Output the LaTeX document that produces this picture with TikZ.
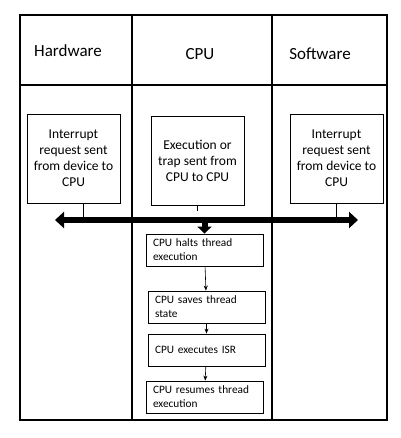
\documentclass[tikz,border=0pt]{standalone}
\usepackage{fontspec}
\setmainfont{Carlito}
\usepackage{tikz}
\usetikzlibrary{arrows.meta, positioning}

\begin{document}
\begin{tikzpicture}[
    x=1pt, y=-1pt,
    lane/.style={draw=black, line width=1.1pt},
    head/.style={font=\fontsize{17}{20}\selectfont},
    srcbox/.style={rectangle, draw=black, line width=0.8pt, minimum width=93pt,
                   minimum height=89pt, align=center,
                   font=\fontsize{13.5}{16}\selectfont},
    stepbox/.style={rectangle, draw=black, line width=0.8pt, minimum width=117pt,
                    minimum height=32pt, text width=103pt, inner xsep=7pt,
                    align=left, font=\fontsize{11.3}{14}\selectfont},
    tick/.style={draw=black, line width=0.6pt},
    arr/.style={-{Stealth[length=5pt,width=4pt]}, line width=0.6pt},
    bus/.style={{Triangle[length=9pt,width=16pt]}-{Triangle[length=9pt,width=16pt]}, line width=6pt},
    busdown/.style={-{Triangle[length=7pt,width=14pt]}, line width=6pt}
]
\useasboundingbox (0,0) rectangle (400,438);

% swim lanes
\draw[lane] (20,15) rectangle (387,420);
\draw[lane] (20,85) -- (387,85);
\draw[lane] (132,15) -- (132,420);
\draw[lane] (272,15) -- (272,420);

\node[head] (hwhead) at (68,51) {Hardware};
\node[head] (cpuhead) at (200,54) {CPU};
\node[head] (swhead) at (320,54) {Software};

% sources
\node[srcbox] (hw) at (73.5,158.5) {Interrupt\\request sent\\from device to\\CPU};
\node[srcbox] (trap) at (197.5,160.5) {Execution or\\trap sent from\\CPU to CPU};
\node[srcbox] (sw) at (336.5,158.5) {Interrupt\\request sent\\from device to\\CPU};

% handling steps
\node[stepbox] (halt) at (204.5,250) {CPU halts thread\\execution};
\node[stepbox] (save) at (206.5,307) {CPU saves thread\\state};
\node[stepbox] (isr) at (206.5,350) {CPU executes ISR};
\node[stepbox] (resume) at (204.5,397) {CPU resumes thread\\execution};

% bus
\coordinate (busL) at (55,220);
\coordinate (busR) at (358,220);
\draw[bus] (busL) -- (busR);
\draw[tick] ([xshift=10pt]hw.south) -- ([xshift=10pt]hw.south |- busL);
\draw[tick] (trap.south) -- ++(0,6);
\draw[tick] (sw.south) -- (sw.south |- busL);
\draw[busdown] (halt.north |- busL) -- (halt.north);

\draw[arr] (halt) -- (save);
\draw[arr] (save) -- (isr);
\draw[arr] (isr) -- (resume);

\end{tikzpicture}
\end{document}
